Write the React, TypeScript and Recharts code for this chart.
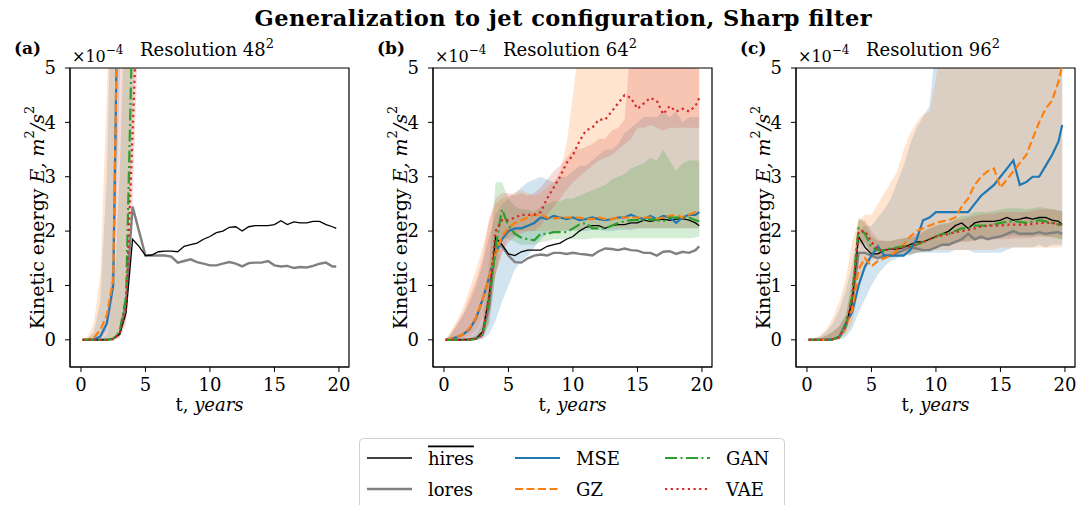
import React from 'react';
import { ComposedChart, Line, Area, XAxis, YAxis, ReferenceArea } from 'recharts';

const FONT = '"DejaVu Serif", serif';

// time axis, years
const T = [0.13, 0.5, 1, 1.5, 2, 2.5, 3, 3.5, 4, 4.5, 5, 5.5, 6, 6.5, 7, 7.5, 8, 8.5, 9, 9.5, 10, 10.5, 11, 11.5, 12, 12.5, 13, 13.5, 14, 14.5, 15, 15.5, 16, 16.5, 17, 17.5, 18, 18.5, 19, 19.5, 19.79];

// ---- panel (a), resolution 48^2 (values x1e-4)
const hiresA = [0, 0, 0, 0, 0, 0.02, 0.1, 0.5, 1.85, 1.72, 1.55,
  1.56, 1.62, 1.63, 1.63, 1.62, 1.72, 1.75, 1.78, 1.85, 1.9,
  1.97, 2.0, 2.07, 2.08, 2.0, 2.08, 2.1, 2.1, 2.1, 2.12,
  2.19, 2.12, 2.17, 2.15, 2.15, 2.18, 2.18, 2.12, 2.08, 2.05];
const loresA = [0, 0, 0, 0, 0, 0.02, 0.12, 0.7, 2.45, 2.0, 1.55,
  1.55, 1.55, 1.55, 1.53, 1.42, 1.45, 1.48, 1.43, 1.4, 1.37,
  1.37, 1.4, 1.43, 1.4, 1.35, 1.41, 1.42, 1.42, 1.45, 1.37,
  1.35, 1.36, 1.32, 1.34, 1.33, 1.36, 1.4, 1.42, 1.35, 1.35];
const mseA = [0, 0, 0.01, 0.06, 0.3, 1.0, 9, 14, 19, 23, 26,
  28, 30, 31, 32, 33, 33, 34, 34, 35, 35,
  35, 36, 36, 36, 37, 37, 37, 38, 38, 38,
  38, 39, 39, 39, 39, 40, 40, 40, 40, 40];
const gzA = [0, 0.01, 0.04, 0.18, 0.45, 1.1, 9, 15, 20, 24, 27,
  29, 31, 32, 33, 34, 34, 35, 35, 36, 36,
  36, 37, 37, 37, 38, 38, 38, 39, 39, 39,
  39, 40, 40, 40, 40, 41, 41, 41, 41, 41];
const ganA = [0, 0, 0, 0, 0, 0.02, 0.15, 0.8, 6, 10, 13,
  15, 17, 18, 19, 20, 21, 21, 22, 22, 23,
  23, 23, 24, 24, 24, 25, 25, 25, 25, 26,
  26, 26, 26, 26, 27, 27, 27, 27, 27, 27];
const vaeA = [0, 0, 0, 0, 0, 0.01, 0.12, 0.6, 3.8, 7, 10,
  12, 14, 15, 16, 17, 18, 18, 19, 19, 20,
  20, 20, 21, 21, 21, 22, 22, 22, 22, 23,
  23, 23, 23, 23, 24, 24, 24, 24, 24, 24];
const mseLoA = [0, 0, 0, 0.02, 0.15, 0.6, 4.8, 9, 14, 18, 21,
  23, 25, 26, 27, 28, 28, 29, 29, 30, 30,
  30, 31, 31, 31, 32, 32, 32, 33, 33, 33,
  33, 34, 34, 34, 34, 35, 35, 35, 35, 35];
const mseHiA = [0, 0.02, 0.15, 0.7, 3.0, 8, 14, 20, 25, 29, 32,
  34, 36, 37, 38, 39, 39, 40, 40, 41, 41,
  41, 42, 42, 42, 43, 43, 43, 44, 44, 44,
  44, 45, 45, 45, 45, 46, 46, 46, 46, 46];
const gzLoA = [0, 0, 0.01, 0.05, 0.25, 0.8, 6, 11, 16, 20, 23,
  25, 27, 28, 29, 30, 30, 31, 31, 32, 32,
  32, 33, 33, 33, 34, 34, 34, 35, 35, 35,
  35, 36, 36, 36, 36, 37, 37, 37, 37, 37];
const gzHiA = [0, 0.05, 0.3, 1.2, 4.5, 9, 15, 21, 26, 30, 33,
  35, 37, 38, 39, 40, 40, 41, 41, 42, 42,
  42, 43, 43, 43, 44, 44, 44, 45, 45, 45,
  45, 46, 46, 46, 46, 47, 47, 47, 47, 47];
const ganLoA = [0, 0, 0, 0, 0, 0.01, 0.05, 0.4, 4, 8, 11,
  13, 15, 16, 17, 18, 19, 19, 20, 20, 21,
  21, 21, 22, 22, 22, 23, 23, 23, 23, 24,
  24, 24, 24, 24, 25, 25, 25, 25, 25, 25];
const ganHiA = [0, 0, 0, 0.01, 0.1, 0.6, 3, 7, 11, 14, 16,
  18, 20, 21, 22, 23, 24, 24, 25, 25, 26,
  26, 26, 27, 27, 27, 28, 28, 28, 28, 29,
  29, 29, 29, 29, 30, 30, 30, 30, 30, 30];
const vaeLoA = [0, 0, 0, 0, 0, 0, 0.03, 0.3, 2.5, 6, 9,
  11, 13, 14, 15, 16, 17, 17, 18, 18, 19,
  19, 19, 20, 20, 20, 21, 21, 21, 21, 22,
  22, 22, 22, 22, 23, 23, 23, 23, 23, 23];
const vaeHiA = [0, 0, 0, 0.05, 0.3, 1.5, 5.5, 9, 13, 16, 18,
  20, 21, 22, 23, 24, 24, 25, 25, 26, 26,
  26, 27, 27, 27, 28, 28, 28, 28, 29, 29,
  29, 29, 29, 30, 30, 30, 30, 30, 30, 30];

// ---- panel (b), resolution 64^2
const hiresB = [0, 0, 0, 0, 0.01, 0.03, 0.15, 0.8, 1.88, 1.75, 1.58,
  1.55, 1.62, 1.65, 1.65, 1.65, 1.72, 1.75, 1.78, 1.85, 1.9,
  2.0, 2.07, 2.1, 2.1, 2.05, 2.1, 2.12, 2.12, 2.15, 2.15,
  2.2, 2.18, 2.2, 2.22, 2.2, 2.22, 2.23, 2.2, 2.15, 2.1];
const loresB = [0, 0, 0, 0, 0.01, 0.02, 0.1, 0.6, 1.75, 1.72, 1.55,
  1.43, 1.42, 1.5, 1.55, 1.57, 1.55, 1.6, 1.6, 1.58, 1.6,
  1.58, 1.57, 1.55, 1.63, 1.68, 1.67, 1.65, 1.68, 1.65, 1.64,
  1.6, 1.6, 1.55, 1.62, 1.63, 1.58, 1.62, 1.6, 1.65, 1.72];
const mseB = [0, 0.02, 0.05, 0.1, 0.2, 0.4, 0.75, 1.15, 1.6, 1.85, 2.0,
  2.05, 2.05, 2.1, 2.15, 2.25, 2.22, 2.28, 2.25, 2.22, 2.25,
  2.2, 2.22, 2.25, 2.22, 2.2, 2.22, 2.25, 2.25, 2.3, 2.25,
  2.22, 2.28, 2.22, 2.28, 2.25, 2.15, 2.25, 2.3, 2.3, 2.35];
const gzB = [0, 0.02, 0.05, 0.1, 0.22, 0.42, 0.75, 1.15, 1.6, 1.9, 2.05,
  2.15, 2.2, 2.25, 2.3, 2.3, 2.25, 2.23, 2.25, 2.25, 2.25,
  2.25, 2.22, 2.22, 2.25, 2.22, 2.22, 2.25, 2.25, 2.25, 2.25,
  2.25, 2.25, 2.22, 2.25, 2.28, 2.3, 2.25, 2.3, 2.35, 2.32];
const ganB = [0, 0, 0, 0, 0, 0.02, 0.1, 0.7, 1.7, 2.4, 2.1,
  1.95, 1.88, 1.85, 1.83, 1.95, 1.95, 1.98, 1.98, 1.98, 2.05,
  2.12, 2.15, 2.05, 2.05, 2.05, 2.1, 2.15, 2.18, 2.2, 2.2,
  2.2, 2.22, 2.2, 2.18, 2.25, 2.25, 2.25, 2.25, 2.2, 2.18];
const vaeB = [0, 0, 0, 0, 0.01, 0.02, 0.1, 0.8, 2.0, 2.2, 2.2,
  2.25, 2.3, 2.3, 2.3, 2.35, 2.6, 2.8, 3.0, 3.25, 3.4,
  3.65, 3.85, 3.9, 4.05, 4.05, 4.2, 4.35, 4.5, 4.45, 4.25,
  4.35, 4.45, 4.4, 4.15, 4.3, 4.2, 4.25, 4.2, 4.3, 4.45];
const mseLoB = [0, 0, 0, 0, 0, 0, 0.02, 0.1, 0.35, 0.7, 1.0,
  1.3, 1.45, 1.55, 1.7, 1.85, 1.95, 2.0, 2.0, 2.0, 2.0,
  2.0, 2.0, 2.02, 2.02, 2.0, 2.0, 2.02, 2.02, 2.02, 2.05,
  2.05, 2.05, 2.05, 2.05, 2.05, 2.05, 2.05, 2.05, 2.05, 2.05];
const mseHiB = [0, 0.1, 0.25, 0.45, 0.7, 1.0, 1.4, 1.9, 2.3, 2.5, 2.6,
  2.7, 2.8, 2.9, 2.95, 3.0, 2.95, 2.9, 3.0, 3.0, 3.1,
  3.2, 3.2, 3.3, 3.4, 3.5, 3.5, 3.6, 3.8, 3.9, 4.0,
  4.1, 4.1, 4.1, 4.2, 4.1, 4.2, 4.0, 4.1, 4.1, 4.1];
const gzLoB = [0, 0, 0.01, 0.03, 0.08, 0.2, 0.4, 0.75, 1.2, 1.6, 1.9,
  1.95, 2.0, 2.0, 2.0, 2.0, 2.0, 2.0, 2.0, 2.02, 2.02,
  2.02, 2.05, 2.05, 2.05, 2.05, 2.05, 2.05, 2.05, 2.05, 2.05,
  2.05, 2.05, 2.05, 2.05, 2.05, 2.05, 2.05, 2.05, 2.05, 2.05];
const gzHiB = [0, 0.15, 0.35, 0.6, 0.95, 1.3, 1.7, 2.2, 2.5, 2.6, 2.65,
  2.7, 2.75, 2.7, 2.65, 2.7, 2.8, 2.9, 3.1, 3.6, 4.5,
  5.5, 6.5, 7, 7.5, 8, 8, 8.5, 8.5, 9, 9,
  9, 9.5, 9.5, 9.5, 10, 10, 10, 10, 10, 10];
const ganLoB = [0, 0, 0, 0, 0, 0.01, 0.05, 0.3, 1.2, 1.9, 1.85,
  1.8, 1.75, 1.75, 1.75, 1.8, 1.82, 1.85, 1.85, 1.85, 1.85,
  1.85, 1.85, 1.87, 1.87, 1.87, 1.87, 1.87, 1.87, 1.87, 1.87,
  1.87, 1.87, 1.87, 1.87, 1.87, 1.87, 1.87, 1.87, 1.88, 1.9];
const ganHiB = [0, 0, 0, 0.01, 0.03, 0.08, 0.3, 1.4, 2.9, 2.9, 2.6,
  2.45, 2.4, 2.4, 2.35, 2.45, 2.5, 2.55, 2.55, 2.6, 2.6,
  2.65, 2.7, 2.75, 2.8, 2.85, 2.95, 3.0, 3.05, 3.15, 3.2,
  3.25, 3.35, 3.3, 3.5, 3.3, 3.1, 3.25, 3.3, 3.3, 3.3];
const vaeLoB = [0, 0, 0, 0, 0, 0, 0.02, 0.3, 1.2, 1.6, 1.8,
  1.9, 1.95, 2.0, 2.0, 2.1, 2.3, 2.45, 2.6, 2.75, 2.9,
  3.0, 3.1, 3.2, 3.3, 3.35, 3.4, 3.5, 3.6, 3.7, 3.9,
  3.9, 3.95, 3.9, 3.85, 3.9, 3.9, 3.9, 3.9, 3.9, 3.9];
const vaeHiB = [0, 0.1, 0.3, 0.5, 0.8, 1.1, 1.5, 2.2, 2.6, 2.7, 2.7,
  2.65, 2.7, 2.65, 2.7, 2.8, 2.95, 3.1, 3.2, 3.35, 3.5,
  3.5, 3.55, 3.6, 3.7, 3.7, 3.85, 3.9, 4.05, 5.5, 7,
  7.5, 8, 8, 8.5, 8.5, 9, 9, 9, 9, 9];

// ---- panel (c), resolution 96^2
const hiresC = [0, 0, 0, 0, 0.01, 0.05, 0.25, 0.7, 1.9, 1.7, 1.58,
  1.58, 1.65, 1.67, 1.67, 1.7, 1.75, 1.8, 1.8, 1.85, 1.9,
  1.95, 2.0, 2.1, 2.15, 2.05, 2.15, 2.18, 2.18, 2.18, 2.2,
  2.25, 2.2, 2.22, 2.25, 2.22, 2.25, 2.25, 2.2, 2.18, 2.12];
const loresC = [0, 0, 0, 0, 0.01, 0.05, 0.25, 0.65, 1.6, 1.6, 1.55,
  1.5, 1.55, 1.55, 1.6, 1.65, 1.7, 1.68, 1.65, 1.65, 1.7,
  1.75, 1.75, 1.8, 1.85, 1.95, 1.85, 1.9, 1.85, 1.88, 1.9,
  1.95, 2.0, 1.95, 1.95, 1.95, 1.98, 1.95, 1.97, 1.98, 1.95];
const mseC = [0, 0, 0, 0, 0.01, 0.05, 0.3, 0.5, 1.0, 1.35, 1.55,
  1.72, 1.55, 1.55, 1.55, 1.55, 1.65, 1.85, 2.2, 2.25, 2.35,
  2.35, 2.35, 2.35, 2.35, 2.35, 2.5, 2.65, 2.75, 2.85, 3.0,
  3.15, 3.3, 2.85, 2.9, 3.0, 3.0, 3.2, 3.4, 3.65, 3.95];
const gzC = [0, 0, 0, 0, 0.01, 0.04, 0.25, 0.55, 1.3, 1.5, 1.35,
  1.45, 1.5, 1.55, 1.65, 1.75, 1.9, 2.0, 2.05, 2.1, 2.15,
  2.18, 2.2, 2.25, 2.45, 2.6, 2.85, 3.0, 3.1, 3.15, 2.8,
  2.95, 3.1, 3.25, 3.4, 3.7, 4.0, 4.25, 4.4, 4.75, 5.05];
const ganC = [0, 0, 0, 0, 0.01, 0.05, 0.25, 0.8, 2.05, 1.95, 1.7,
  1.65, 1.65, 1.68, 1.7, 1.72, 1.72, 1.75, 1.8, 1.85, 1.9,
  1.95, 1.95, 2.0, 2.05, 2.05, 2.1, 2.1, 2.1, 2.12, 2.15,
  2.17, 2.18, 2.17, 2.15, 2.17, 2.2, 2.18, 2.15, 2.12, 2.12];
const vaeC = [0, 0, 0, 0, 0.01, 0.05, 0.25, 0.75, 2.0, 2.0, 1.8,
  1.65, 1.65, 1.67, 1.68, 1.7, 1.72, 1.76, 1.8, 1.85, 1.9,
  1.92, 1.95, 1.98, 2.0, 2.02, 2.05, 2.08, 2.1, 2.1, 2.1,
  2.12, 2.12, 2.12, 2.12, 2.13, 2.15, 2.15, 2.15, 2.13, 2.1];
const mseLoC = [0, 0, 0, 0, 0, 0, 0.05, 0.2, 0.5, 0.75, 1.0,
  1.2, 1.35, 1.45, 1.5, 1.55, 1.55, 1.6, 1.6, 1.6, 1.6,
  1.6, 1.6, 1.65, 1.65, 1.65, 1.6, 1.6, 1.6, 1.6, 1.6,
  1.65, 1.7, 1.7, 1.7, 1.7, 1.75, 1.7, 1.75, 1.75, 1.75];
const mseHiC = [0, 0.02, 0.06, 0.15, 0.3, 0.55, 0.9, 1.4, 2.0, 2.1, 2.1,
  2.25, 2.4, 2.6, 2.9, 3.2, 3.6, 3.9, 4.1, 4.3, 5.5,
  7, 8, 8.5, 9, 9.5, 10, 10, 10.5, 10.5, 11,
  11, 11, 11.5, 11.5, 11.5, 12, 12, 12, 12, 12];
const gzLoC = [0, 0, 0, 0, 0, 0.01, 0.1, 0.3, 0.9, 1.3, 1.45,
  1.5, 1.5, 1.55, 1.6, 1.65, 1.65, 1.65, 1.65, 1.65, 1.65,
  1.65, 1.65, 1.65, 1.65, 1.65, 1.65, 1.65, 1.65, 1.65, 1.7,
  1.7, 1.7, 1.7, 1.7, 1.7, 1.7, 1.7, 1.7, 1.7, 1.7];
const gzHiC = [0, 0.02, 0.08, 0.2, 0.4, 0.7, 1.1, 1.8, 2.2, 2.3, 2.3,
  2.5, 2.7, 2.9, 3.1, 3.5, 3.8, 4.0, 4.15, 4.2, 4.8,
  5.6, 7, 7.5, 8, 8.5, 9, 9, 9.5, 9.5, 10,
  10, 10, 10.5, 10.5, 10.5, 11, 11, 11, 11, 11];
const ganLoC = [0, 0, 0, 0, 0, 0.02, 0.15, 0.55, 1.8, 1.75, 1.55,
  1.5, 1.5, 1.55, 1.55, 1.57, 1.57, 1.6, 1.62, 1.65, 1.7,
  1.75, 1.75, 1.78, 1.82, 1.82, 1.85, 1.85, 1.85, 1.88, 1.9,
  1.9, 1.92, 1.9, 1.9, 1.9, 1.92, 1.9, 1.88, 1.85, 1.85];
const ganHiC = [0, 0.01, 0.03, 0.08, 0.15, 0.25, 0.45, 1.1, 2.25, 2.15, 1.9,
  1.82, 1.82, 1.82, 1.85, 1.87, 1.88, 1.9, 1.98, 2.05, 2.1,
  2.15, 2.15, 2.22, 2.28, 2.28, 2.35, 2.35, 2.35, 2.37, 2.4,
  2.42, 2.42, 2.42, 2.4, 2.42, 2.45, 2.42, 2.4, 2.38, 2.38];
const vaeLoC = [0, 0, 0, 0, 0, 0.02, 0.15, 0.5, 1.75, 1.8, 1.6,
  1.5, 1.5, 1.52, 1.55, 1.55, 1.58, 1.6, 1.62, 1.65, 1.7,
  1.72, 1.75, 1.78, 1.8, 1.8, 1.82, 1.85, 1.85, 1.85, 1.85,
  1.85, 1.87, 1.87, 1.87, 1.88, 1.9, 1.9, 1.9, 1.88, 1.85];
const vaeHiC = [0, 0.01, 0.03, 0.08, 0.15, 0.25, 0.45, 1.0, 2.2, 2.2, 2.0,
  1.85, 1.82, 1.82, 1.85, 1.87, 1.9, 1.95, 2.0, 2.05, 2.1,
  2.12, 2.15, 2.2, 2.22, 2.25, 2.28, 2.3, 2.32, 2.32, 2.35,
  2.35, 2.35, 2.35, 2.35, 2.38, 2.4, 2.4, 2.4, 2.38, 2.35];

const X_TICKS = [0, 5, 10, 15, 20];
const Y_TICKS = [0, 1, 2, 3, 4, 5];
const X_DOMAIN = [-0.85, 20.78];
const Y_DOMAIN = [-0.5, 5];

const BLUE = '#1f77b4';
const ORANGE = '#ff7f0e';
const GREEN = '#2ca02c';
const RED = '#d62728';
const GRAY = '#808080';

function buildRows(p) {
  return T.map((t, i) => ({
    t,
    hires: p.hires[i],
    lores: p.lores[i],
    mse: p.mse[i],
    gz: p.gz[i],
    gan: p.gan[i],
    vae: p.vae[i],
    mseBand: [p.mseLo[i], p.mseHi[i]],
    gzBand: [p.gzLo[i], p.gzHi[i]],
    ganBand: [p.ganLo[i], p.ganHi[i]],
    vaeBand: [p.vaeLo[i], p.vaeHi[i]],
  }));
}

const panels = [
  {
    id: '(a)', res: '48', plotLeft: 70,
    rows: buildRows({ hires: hiresA, lores: loresA, mse: mseA, gz: gzA, gan: ganA, vae: vaeA,
      mseLo: mseLoA, mseHi: mseHiA, gzLo: gzLoA, gzHi: gzHiA, ganLo: ganLoA, ganHi: ganHiA, vaeLo: vaeLoA, vaeHi: vaeHiA }),
  },
  {
    id: '(b)', res: '64', plotLeft: 433,
    rows: buildRows({ hires: hiresB, lores: loresB, mse: mseB, gz: gzB, gan: ganB, vae: vaeB,
      mseLo: mseLoB, mseHi: mseHiB, gzLo: gzLoB, gzHi: gzHiB, ganLo: ganLoB, ganHi: ganHiB, vaeLo: vaeLoB, vaeHi: vaeHiB }),
  },
  {
    id: '(c)', res: '96', plotLeft: 796,
    rows: buildRows({ hires: hiresC, lores: loresC, mse: mseC, gz: gzC, gan: ganC, vae: vaeC,
      mseLo: mseLoC, mseHi: mseHiC, gzLo: gzLoC, gzHi: gzHiC, ganLo: ganLoC, ganHi: ganHiC, vaeLo: vaeLoC, vaeHi: vaeHiC }),
  },
];

const tickStyle = { fill: '#000', fontSize: 18, fontFamily: FONT };

function YLabel(props) {
  const vb = props.viewBox || { x: 0, y: 68, width: 70, height: 299 };
  const cx = vb.x + vb.width - 33;
  const cy = vb.y + vb.height / 2;
  return (
    <text x={cx} y={cy} transform={`rotate(-90 ${cx} ${cy})`} textAnchor="middle" dominantBaseline="central"
      fontFamily={FONT} fontSize={19} fill="#000">
      Kinetic energy <tspan fontStyle="italic">E, m</tspan>
      <tspan dy={-8} fontSize={13}>2</tspan>
      <tspan dy={8} fontStyle="italic">/s</tspan>
      <tspan dy={-8} fontSize={13}>2</tspan>
    </text>
  );
}

function XLabel(props) {
  const vb = props.viewBox || { x: 70, y: 367, width: 279, height: 53 };
  return (
    <text x={vb.x + vb.width / 2} y={vb.y + 44} textAnchor="middle" fontFamily={FONT} fontSize={18} fill="#000">
      t, <tspan fontStyle="italic">years</tspan>
    </text>
  );
}

function Panel({ plotLeft, rows }) {
  return (
    <div style={{ position: 'absolute', left: plotLeft - 70, top: 0 }}>
      <ComposedChart width={360} height={420} data={rows} margin={{ top: 68, right: 11, bottom: 0, left: 0 }}>
        <XAxis dataKey="t" type="number" domain={X_DOMAIN} ticks={X_TICKS} allowDataOverflow
          height={53} tickSize={5} tickMargin={6} stroke="#000" tick={tickStyle}
          label={{ content: (p) => <XLabel {...p} /> }} />
        <YAxis type="number" domain={Y_DOMAIN} ticks={Y_TICKS} allowDataOverflow
          width={70} tickSize={5} tickMargin={9} stroke="#000" tick={tickStyle}
          label={{ content: (p) => <YLabel {...p} /> }} />
        <Area dataKey="mseBand" stroke="none" fill={BLUE} fillOpacity={0.2} dot={false} activeDot={false} isAnimationActive={false} />
        <Area dataKey="gzBand" stroke="none" fill={ORANGE} fillOpacity={0.2} dot={false} activeDot={false} isAnimationActive={false} />
        <Area dataKey="ganBand" stroke="none" fill={GREEN} fillOpacity={0.2} dot={false} activeDot={false} isAnimationActive={false} />
        <Area dataKey="vaeBand" stroke="none" fill={RED} fillOpacity={0.17} dot={false} activeDot={false} isAnimationActive={false} />
        <Line dataKey="lores" stroke={GRAY} strokeWidth={2.4} dot={false} isAnimationActive={false} />
        <Line dataKey="hires" stroke="#000" strokeWidth={1.3} dot={false} isAnimationActive={false} />
        <Line dataKey="mse" stroke={BLUE} strokeWidth={2.2} dot={false} isAnimationActive={false} />
        <Line dataKey="gz" stroke={ORANGE} strokeWidth={2.2} strokeDasharray="8 3.5" dot={false} isAnimationActive={false} />
        <Line dataKey="gan" stroke={GREEN} strokeWidth={2.2} strokeDasharray="12 3.5 2 3.5" dot={false} isAnimationActive={false} />
        <Line dataKey="vae" stroke={RED} strokeWidth={2.2} strokeDasharray="2.2 3.5" dot={false} isAnimationActive={false} />
        <ReferenceArea x1={X_DOMAIN[0]} x2={X_DOMAIN[1]} y1={Y_DOMAIN[0]} y2={Y_DOMAIN[1]} fill="none" fillOpacity={0}
          stroke="#000" strokeWidth={1.2} />
      </ComposedChart>
    </div>
  );
}

const legendItems = [
  { name: 'hires', color: '#000', width: 1.3, dash: undefined, col: 0, row: 0, overline: true },
  { name: 'lores', color: GRAY, width: 2.4, dash: undefined, col: 0, row: 1 },
  { name: 'MSE', color: BLUE, width: 2.2, dash: undefined, col: 1, row: 0 },
  { name: 'GZ', color: ORANGE, width: 2.2, dash: '8 3.5', col: 1, row: 1 },
  { name: 'GAN', color: GREEN, width: 2.2, dash: '12 3.5 2 3.5', col: 2, row: 0 },
  { name: 'VAE', color: RED, width: 2.2, dash: '2.2 3.5', col: 2, row: 1 },
];
const legendCols = [367, 515, 665];
const legendRows = [458, 489];

export default function App() {
  return (
    <div style={{ position: 'absolute', left: 0, top: 0, width: 1088, height: 505, background: '#fff', overflow: 'hidden' }}>
      {panels.map((p) => (
        <Panel key={p.id} plotLeft={p.plotLeft} rows={p.rows} />
      ))}
      <svg width={1088} height={505} style={{ position: 'absolute', left: 0, top: 0, pointerEvents: 'none' }}>
        <text x={563} y={26} textAnchor="middle" fontFamily={FONT} fontWeight="bold" fontSize={22.5}
          textLength={617} lengthAdjust="spacing" fill="#000">
          Generalization to jet configuration, Sharp filter
        </text>
        {panels.map((p) => (
          <g key={p.id} fontFamily={FONT} fill="#000">
            <text x={p.plotLeft - 56} y={54} fontWeight="bold" fontSize={17}>{p.id}</text>
            <text x={p.plotLeft + 2} y={62} fontSize={16}>
              ×10<tspan dy={-8} fontSize={12}>−4</tspan>
            </text>
            <text x={p.plotLeft + 70} y={56} fontSize={18}>
              Resolution {p.res}<tspan dy={-8} fontSize={13}>2</tspan>
            </text>
          </g>
        ))}
        <rect x={359.5} y={438.5} width={425} height={80} rx={4} fill="#fff" stroke="#d0d0d0" />
        {legendItems.map((it) => {
          const x0 = legendCols[it.col];
          const y0 = legendRows[it.row];
          return (
            <g key={it.name}>
              <line x1={x0} x2={x0 + 45} y1={y0} y2={y0} stroke={it.color} strokeWidth={it.width} strokeDasharray={it.dash} />
              <text x={x0 + 61} y={y0} dominantBaseline="central" fontFamily={FONT} fontSize={18} fill="#000"
                style={it.overline ? { textDecoration: 'overline' } : undefined}>
                {it.name}
              </text>
            </g>
          );
        })}
      </svg>
    </div>
  );
}
